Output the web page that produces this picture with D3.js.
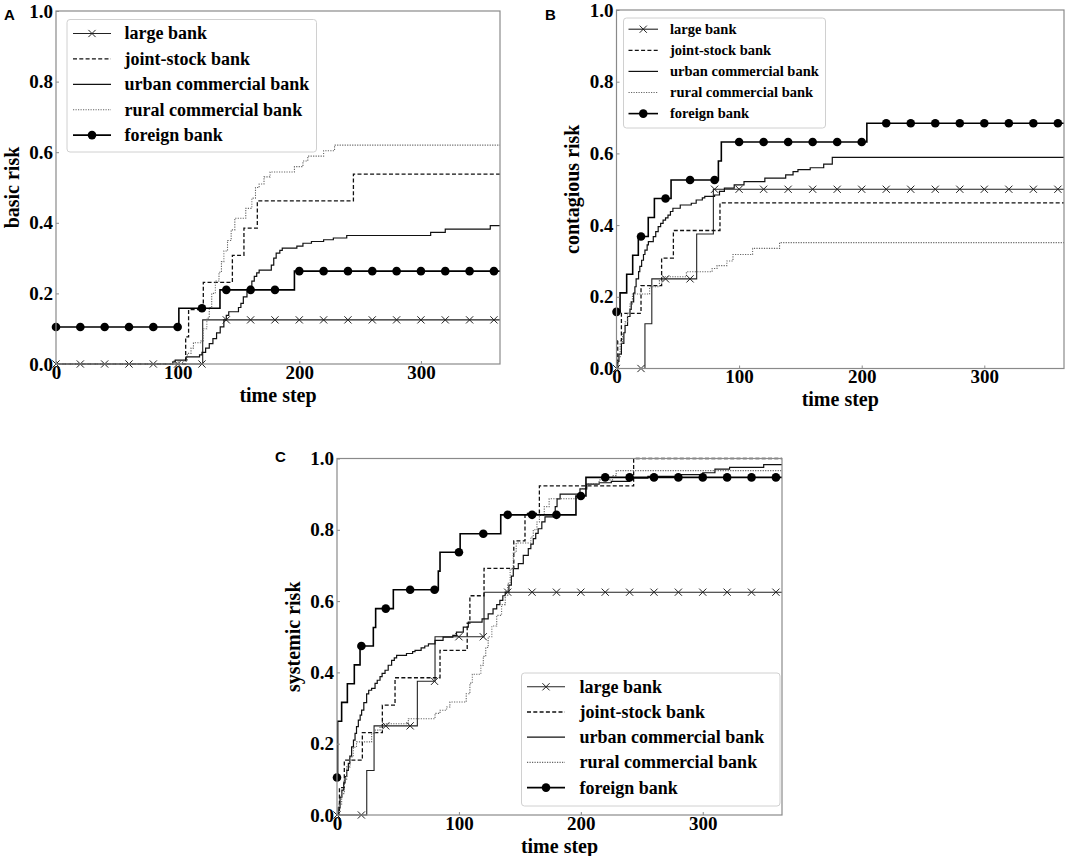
<!DOCTYPE html>
<html><head><meta charset="utf-8">
<script src="https://cdn.jsdelivr.net/npm/d3@7"></script>
<style>body{margin:0;background:#fff}</style>
</head><body>
<svg id="chart" width="1069" height="856"></svg>
<script>
// ---------- data ----------
const seriesNames = ["large bank", "joint-stock bank", "urban commercial bank", "rural commercial bank", "foreign bank"];
const panelLetters = ["A", "B", "C"];
const yLabels = ["basic risk", "contagious risk", "systemic risk"];
const xLabel = "time step";
const xTicks = [0, 100, 200, 300];
const yTicks = [0, 0.2, 0.4, 0.6, 0.8, 1.0];
const xMax = 365;
const markerSteps = [0,20,40,60,80,100,120,140,160,180,200,220,240,260,280,300,320,340,360];

// Panel A: basic risk  ([time step, value] change points, step-after)
const basicLarge = [[0,0],[120.6,0.125]];
const basicJoint = [[0,0],[106.6,0.077],[109,0.154],[121.1,0.231],[145,0.308],[154.5,0.385],[165.5,0.462],[244.5,0.538]];
const basicUrban = [[0,0],[96,0.006],[98,0.011],[107,0.02],[118,0.026],[120,0.033],[123,0.045],[126,0.058],[129,0.072],[132,0.088],[135,0.105],[138,0.125],[140,0.138],[142,0.148],[150,0.16],[152,0.172],[154,0.19],[157,0.205],[159,0.22],[161,0.235],[163,0.248],[165,0.258],[167,0.266],[177,0.28],[179,0.3],[181,0.314],[184,0.322],[186,0.328],[198,0.334],[203,0.342],[210,0.347],[220,0.352],[228,0.357],[239,0.364],[308,0.373],[320,0.382],[357,0.392]];
const basicRural = [[0,0],[104,0.008],[108,0.03],[111,0.045],[113,0.06],[119,0.065],[121,0.1],[124,0.13],[126,0.16],[128,0.2],[131,0.235],[134,0.26],[136,0.29],[138,0.32],[141,0.35],[144,0.38],[147,0.413],[156,0.441],[161,0.47],[164,0.5],[167,0.51],[171,0.53],[176,0.544],[196,0.559],[203,0.575],[207,0.589],[220,0.604],[229,0.62]];
const basicForeign = [[0,0.105],[101,0.158],[134.8,0.21],[196,0.263]];

// Panel B: contagious risk
const contLarge = [[0,0],[23.2,0.125],[28.8,0.25],[65.4,0.375],[79,0.5]];
const contJoint = [[0,0],[1,0.077],[4,0.154],[20,0.231],[36.8,0.308],[46.4,0.385],[84.4,0.462]];
const contUrban = [[0,0],[1,0.02],[2,0.04],[4,0.07],[6,0.1],[7,0.12],[9,0.145],[11,0.165],[12,0.186],[14,0.21],[15,0.228],[16,0.25],[18,0.27],[19,0.285],[20.5,0.302],[22,0.318],[23.2,0.33],[25,0.345],[26,0.354],[30,0.368],[32,0.382],[34,0.396],[36,0.405],[38,0.414],[40,0.42],[42,0.428],[44,0.438],[46,0.447],[52,0.456],[61,0.461],[65,0.47],[70,0.476],[72,0.48],[80,0.484],[84,0.494],[88,0.503],[96,0.512],[104,0.521],[121,0.531],[138,0.54],[144,0.549],[148,0.555],[158,0.56],[169,0.57],[176,0.589]];
const contRural = [[0,0],[1,0.03],[3,0.07],[5,0.1],[7,0.13],[9,0.155],[11,0.18],[13,0.208],[27,0.228],[35,0.245],[38,0.256],[57,0.27],[78,0.279],[82,0.287],[90,0.3],[95,0.318],[111,0.335],[133,0.351]];
const contForeign = [[0,0.158],[2.9,0.211],[8.3,0.263],[13.2,0.316],[17.8,0.368],[25.9,0.421],[30.9,0.474],[44.5,0.526],[83.1,0.579],[85.5,0.632],[204.2,0.684]];

// Panel C: systemic risk
const sysLarge = [[0,0],[24.4,0.125],[30.4,0.25],[65.9,0.375],[80.4,0.5],[120.6,0.625]];
const sysJoint = [[0,0],[2,0.077],[6,0.154],[20.8,0.231],[37.2,0.308],[47.6,0.385],[84.5,0.462],[106.8,0.538],[109,0.615],[120.6,0.692],[145,0.769],[154.2,0.846],[166,0.923],[243.3,1.0]];
const sysUrban = [[0,0],[1,0.02],[2.5,0.05],[4,0.07],[5.5,0.09],[6.6,0.108],[8,0.125],[9.3,0.145],[10.5,0.165],[12,0.191],[13.5,0.21],[14.8,0.229],[16,0.248],[17.5,0.266],[19,0.28],[20.2,0.294],[22,0.315],[24.3,0.34],[26,0.35],[28.4,0.355],[31.2,0.369],[33,0.378],[35.3,0.388],[37,0.397],[39.4,0.406],[42,0.42],[44.8,0.434],[47,0.441],[48.9,0.448],[57,0.453],[62,0.458],[64,0.462],[69,0.469],[72,0.474],[75,0.48],[80.4,0.49],[87,0.499],[95,0.504],[98,0.513],[103.6,0.527],[107.7,0.541],[119,0.55],[124,0.564],[128,0.578],[131,0.59],[133.6,0.602],[136,0.615],[138,0.625],[141,0.645],[143,0.67],[144.6,0.691],[148.7,0.705],[152.8,0.728],[156.9,0.747],[159,0.76],[161,0.775],[163,0.79],[165,0.803],[168,0.822],[170.6,0.836],[178,0.845],[179,0.865],[180.5,0.887],[183,0.9],[199.3,0.915],[204.8,0.928],[215,0.932],[225,0.936],[240,0.945],[255,0.95],[280,0.955],[300,0.96],[310,0.97],[322,0.975],[350,0.983]];
const sysRural = [[0,0],[1.5,0.03],[3.8,0.06],[6,0.1],[7.9,0.135],[10.7,0.163],[13.4,0.19],[16,0.205],[28.4,0.229],[31.2,0.238],[35.3,0.248],[38,0.256],[58.5,0.27],[80.4,0.285],[84.5,0.294],[89.9,0.303],[92.6,0.317],[106,0.34],[109,0.37],[111,0.395],[118,0.42],[120,0.445],[122,0.47],[124,0.5],[127,0.53],[131,0.56],[135,0.59],[138,0.616],[140,0.65],[142,0.69],[144.6,0.737],[147,0.763],[159,0.78],[161,0.8],[164,0.822],[166,0.84],[170,0.865],[174,0.887],[199,0.915],[205,0.93],[215,0.94],[226,0.952],[229,0.966]];
const sysForeign = [[0,0.105],[0.5,0.263],[3.8,0.316],[8.5,0.368],[14.2,0.421],[18.9,0.474],[29.8,0.526],[31.7,0.579],[46.2,0.632],[83.1,0.684],[84.5,0.737],[101,0.789],[134.3,0.842],[196,0.895],[204.2,0.947]];

// ---------- layout & style ----------
const panels = [
  { series: [basicLarge, basicJoint, basicUrban, basicRural, basicForeign],
    box: {l: 56, r: 500, t: 11, b: 364}, letterPos: [4, 20],
    legend: {x0: 67, x1: 316.5, y0: 19.5, y1: 152, row0: 33.5, rowStep: 25.4, lx0: 73, lx1: 111, tx: 124.5, fs: 18} },
  { series: [contLarge, contJoint, contUrban, contRural, contForeign],
    box: {l: 616.5, r: 1064, t: 10, b: 368.5}, letterPos: [545, 19.5],
    legend: {x0: 623.5, x1: 825.5, y0: 18, y1: 128, row0: 29.2, rowStep: 21.1, lx0: 628.5, lx1: 658, tx: 670, fs: 14.5} },
  { series: [sysLarge, sysJoint, sysUrban, sysRural, sysForeign],
    box: {l: 337, r: 782, t: 458.5, b: 815}, letterPos: [275, 461.5],
    legend: {x0: 521.5, x1: 780, y0: 673, y1: 806, row0: 686.8, rowStep: 25.2, lx0: 527, lx1: 565, tx: 579.5, fs: 18} }
];

const styles = [
  {stroke: "#222", width: 1.1, dash: null, marker: "x"},
  {stroke: "#111", width: 1.3, dash: "4,2.3", marker: null},
  {stroke: "#111", width: 1.2, dash: null, marker: null},
  {stroke: "#666", width: 1.1, dash: "1.2,1.3", marker: null},
  {stroke: "#000", width: 1.6, dash: null, marker: "dot"}
];

const serif = "'Liberation Serif','Times New Roman',Times,serif";
const sans = "'Liberation Sans',Arial,Helvetica,sans-serif";

const svg = d3.select("#chart");
svg.append("rect").attr("width", 1069).attr("height", 856).attr("fill", "#fff");

function valueAt(data, s) {
  let v = data[0][1];
  for (const [t, y] of data) if (t <= s) v = y;
  return v;
}

function drawMarker(g, type, cx, cy, st) {
  if (type === "dot") {
    g.append("circle").attr("cx", cx).attr("cy", cy).attr("r", 4.3).attr("fill", "#000");
  } else if (type === "x") {
    const h = 3.6;
    g.append("path").attr("d", `M${cx-h},${cy-h}L${cx+h},${cy+h}M${cx-h},${cy+h}L${cx+h},${cy-h}`)
      .attr("stroke", st.stroke).attr("stroke-width", 1).attr("fill", "none");
  }
}

panels.forEach((p, pi) => {
  const {l, r, t, b} = p.box;
  const x = d3.scaleLinear().domain([0, xMax]).range([l, r]);
  const y = d3.scaleLinear().domain([0, 1]).range([b, t]);
  const g = svg.append("g");

  const clipId = "clip" + pi;
  svg.append("clipPath").attr("id", clipId).append("rect")
    .attr("x", l).attr("y", t - 2).attr("width", r - l).attr("height", b - t + 4);

  const plot = g.append("g").attr("clip-path", `url(#${clipId})`);
  const line = d3.line().x(d => x(d[0])).y(d => y(d[1])).curve(d3.curveStepAfter);

  p.series.forEach((data, si) => {
    const st = styles[si];
    const full = data.concat([[xMax, data[data.length - 1][1]]]);
    plot.append("path").datum(full).attr("d", line)
      .attr("fill", "none").attr("stroke", st.stroke).attr("stroke-width", st.width)
      .attr("stroke-dasharray", st.dash);
    if (st.marker) {
      markerSteps.forEach(s => drawMarker(g, st.marker, x(s), y(valueAt(data, s)), st));
    }
  });

  // axes (inward short ticks, labels outside)
  const xa = g.append("g").attr("transform", `translate(0,${b})`)
    .call(d3.axisBottom(x).tickValues(xTicks).tickSizeInner(-3).tickSizeOuter(0).tickPadding(1).tickFormat(d3.format("d")));
  const ya = g.append("g").attr("transform", `translate(${l},0)`)
    .call(d3.axisLeft(y).tickValues(yTicks).tickSizeInner(-3).tickSizeOuter(0).tickPadding(3).tickFormat(d3.format(".1f")));
  [xa, ya].forEach(a => {
    a.select(".domain").remove();
    a.selectAll(".tick line").attr("stroke", "#8a8a8a");
    a.selectAll("text").attr("font-family", serif).attr("font-weight", "bold")
      .attr("font-size", 19).attr("fill", "#000");
  });

  // frame
  g.append("rect").attr("x", l).attr("y", t).attr("width", r - l).attr("height", b - t)
    .attr("fill", "none").attr("stroke", "#8a8a8a").attr("stroke-width", 1.2);

  // axis labels
  g.append("text").attr("x", (l + r) / 2).attr("y", b + 37.5)
    .attr("text-anchor", "middle").attr("font-family", serif).attr("font-weight", "bold")
    .attr("font-size", 20).text(xLabel);
  g.append("text").attr("transform", `translate(${l - 37.5},${(t + b) / 2}) rotate(-90)`)
    .attr("text-anchor", "middle").attr("font-family", serif).attr("font-weight", "bold")
    .attr("font-size", 20).text(yLabels[pi]);

  // panel letter
  g.append("text").attr("x", p.letterPos[0]).attr("y", p.letterPos[1])
    .attr("font-family", sans).attr("font-weight", "bold").attr("font-size", 15).text(panelLetters[pi]);

  // legend
  const L = p.legend;
  const lg = g.append("g");
  lg.append("rect").attr("x", L.x0).attr("y", L.y0).attr("width", L.x1 - L.x0).attr("height", L.y1 - L.y0)
    .attr("rx", 3).attr("fill", "#fff").attr("fill-opacity", 0.85).attr("stroke", "#d0d0d0").attr("stroke-width", 1);
  seriesNames.forEach((name, si) => {
    const st = styles[si];
    const cy = L.row0 + si * L.rowStep;
    lg.append("line").attr("x1", L.lx0).attr("x2", L.lx1).attr("y1", cy).attr("y2", cy)
      .attr("stroke", st.stroke).attr("stroke-width", st.width).attr("stroke-dasharray", st.dash);
    if (st.marker) drawMarker(lg, st.marker, (L.lx0 + L.lx1) / 2, cy, st);
    lg.append("text").attr("x", L.tx).attr("y", cy).attr("dy", "0.33em")
      .attr("font-family", serif).attr("font-weight", "bold").attr("font-size", L.fs).text(name);
  });
});
</script>
</body></html>
